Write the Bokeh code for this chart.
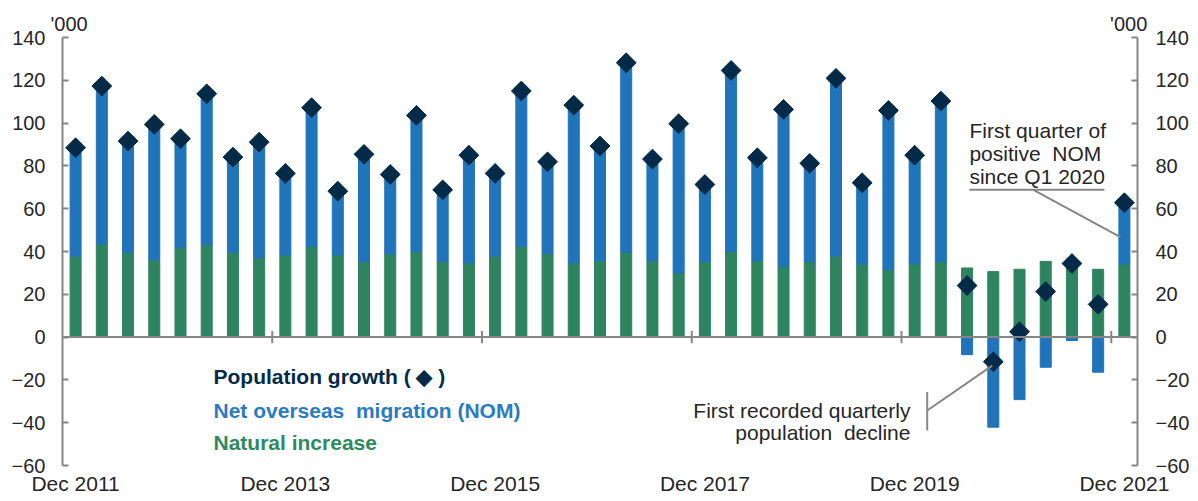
import numpy as np
from bokeh.plotting import figure
from bokeh.models import (Range1d, LinearAxis, FixedTicker, Span, Label,
                          ColumnDataSource, Title)
from bokeh.embed import file_html
from bokeh.resources import INLINE

# ---------------- data ('000 persons, quarterly) ----------------
quarters = ["Dec 2011", "Mar 2012", "Jun 2012", "Sep 2012", "Dec 2012",
            "Mar 2013", "Jun 2013", "Sep 2013", "Dec 2013", "Mar 2014",
            "Jun 2014", "Sep 2014", "Dec 2014", "Mar 2015", "Jun 2015",
            "Sep 2015", "Dec 2015", "Mar 2016", "Jun 2016", "Sep 2016",
            "Dec 2016", "Mar 2017", "Jun 2017", "Sep 2017", "Dec 2017",
            "Mar 2018", "Jun 2018", "Sep 2018", "Dec 2018", "Mar 2019",
            "Jun 2019", "Sep 2019", "Dec 2019", "Mar 2020", "Jun 2020",
            "Sep 2020", "Dec 2020", "Mar 2021", "Jun 2021", "Sep 2021",
            "Dec 2021"]

natural_increase = [37.8, 43.5, 39.6, 36.1, 42.0, 43.2, 39.6, 37.0, 38.4, 42.4,
                    38.4, 35.3, 38.9, 40.0, 35.3, 34.7, 37.8, 42.4, 38.9, 34.7,
                    35.7, 39.5, 35.7, 30.0, 35.3, 40.0, 35.7, 32.9, 35.3, 37.8,
                    34.2, 31.5, 34.2, 35.3, 32.3, 30.6, 31.7, 35.4, 36.0, 31.7,
                    34.2]

nom = [50.7, 73.8, 52.0, 63.3, 50.7, 70.5, 44.5, 54.1, 38.1, 64.8,
       29.8, 50.1, 37.1, 63.6, 33.5, 50.3, 38.7, 72.6, 43.0, 73.7,
       53.6, 88.7, 47.5, 69.7, 36.0, 84.6, 48.1, 73.5, 45.9, 83.1,
       37.9, 74.4, 50.8, 75.0, -8.2, -42.1, -29.2, -14.1, -1.6, -16.4,
       28.6]

tick_labels = ["Dec 2011", "Dec 2013", "Dec 2015", "Dec 2017", "Dec 2019",
               "Dec 2021"]
y_ticks = [-60, -40, -20, 0, 20, 40, 60, 80, 100, 120, 140]
unit = "'000"

# ---------------- derived ----------------
x = np.arange(len(quarters))
nat = np.array(natural_increase)
mig = np.array(nom)
pop = nat + mig
nom_bottom = np.where(mig >= 0, nat, mig)
nom_top = np.where(mig >= 0, nat + mig, 0)

src = ColumnDataSource(dict(x=x, nat=nat, nb=nom_bottom, nt=nom_top, pop=pop,
                            q=quarters))

FONT = "Liberation Sans"
GREY = "#868686"
TXT = "#262626"
BLUE = "#1f74ba"
GREEN = "#2e8460"
NAVY = "#032a47"

p = figure(frame_width=1075, frame_height=434,
           output_backend="svg", toolbar_location=None,
           x_range=Range1d(-0.5, len(quarters) - 0.5),
           y_range=Range1d(-62.8, 140),
           min_border_left=62, min_border_right=61,
           min_border_top=37, min_border_bottom=30,
           x_axis_location=None, y_axis_location=None)
p.outline_line_color = None
p.grid.visible = False
p.background_fill_color = "white"
p.border_fill_color = "white"

# unit labels above both axes (one title line, spaced with non-breaking spaces)
p.add_layout(Title(text=unit + "\u00a0" * 184 + unit, align="left",
                   offset=-12, standoff=5, text_font=FONT,
                   text_font_size="20px", text_font_style="normal",
                   text_color=TXT), "above")

# bars
p.vbar(x="x", bottom=0, top="nat", width=0.42, color=GREEN, source=src)
p.vbar(x="x", bottom="nb", top="nt", width=0.42, color=BLUE, source=src)

# zero line and category boundary ticks
p.add_layout(Span(location=0, dimension="width", line_color=GREY,
                  line_width=2))
bounds = x[8::8] - 0.5
p.segment(x0=bounds, x1=bounds, y0=[-2.9] * len(bounds),
          y1=[2.9] * len(bounds), line_color=GREY, line_width=2)

# population diamonds
p.scatter(x="x", y="pop", marker="square", angle=np.pi / 4, size=14,
          color=NAVY, source=src)

# axes
def yaxis(side):
    ax = LinearAxis(ticker=FixedTicker(ticks=y_ticks), bounds=(-60, 140))
    ax.axis_line_color = GREY
    ax.axis_line_width = 2
    ax.major_tick_line_color = GREY
    ax.major_tick_line_width = 2
    ax.major_tick_in = 6
    ax.major_tick_out = 0
    ax.minor_tick_line_color = None
    ax.major_label_text_font = FONT
    ax.major_label_text_font_size = "20px"
    ax.major_label_text_color = TXT
    ax.major_label_standoff = 17 if side == "left" else 18
    p.add_layout(ax, side)

yaxis("left")
yaxis("right")

xax = LinearAxis(ticker=FixedTicker(ticks=list(x[::8])))
xax.major_label_overrides = {int(i): lab for i, lab in zip(x[::8], tick_labels)}
xax.axis_line_color = None
xax.major_tick_line_color = None
xax.major_tick_in = 0
xax.major_tick_out = 0
xax.minor_tick_line_color = None
xax.major_label_text_font = FONT
xax.major_label_text_font_size = "21px"
xax.major_label_text_color = TXT
xax.major_label_standoff = 0
p.add_layout(xax, "below")

def label(xv, yv, text, color=TXT, bold=False, align="left", size="21px"):
    p.add_layout(Label(x=xv, y=yv, text=text, text_font=FONT,
                       text_font_size=size, text_color=color,
                       text_font_style="bold" if bold else "normal",
                       text_align=align, text_baseline="alphabetic"))

# legend text
label(5.26, -18.6, "Population growth ( \u25c6 )", color=NAVY, bold=True)
label(5.26, -34.3, "Net overseas\u00a0 migration (NOM)", color="#2a7bc1",
      bold=True)
label(5.26, -49.4, "Natural increase", color="#2e8a5e", bold=True)

# annotation: first positive NOM
label(34.09, 96.5, "First quarter of")
label(34.09, 85.8, "positive\u00a0 NOM")
label(34.09, 75.0, "since Q1 2020")
p.segment(x0=[34.09, 36.53], y0=[68.8, 68.8], x1=[39.24, 39.85],
          y1=[68.8, 46.7], line_color=GREY, line_width=2)

# annotation: first decline
label(31.84, -34.3, "First recorded quarterly", align="right")
label(31.84, -44.4, "population\u00a0 decline", align="right")
p.segment(x0=[32.48, 32.48], y0=[-25.7, -34.3], x1=[32.48, 34.96],
          y1=[-43.6, -13.3], line_color=GREY, line_width=2)

open("out.html", "w").write(file_html(p, INLINE))
